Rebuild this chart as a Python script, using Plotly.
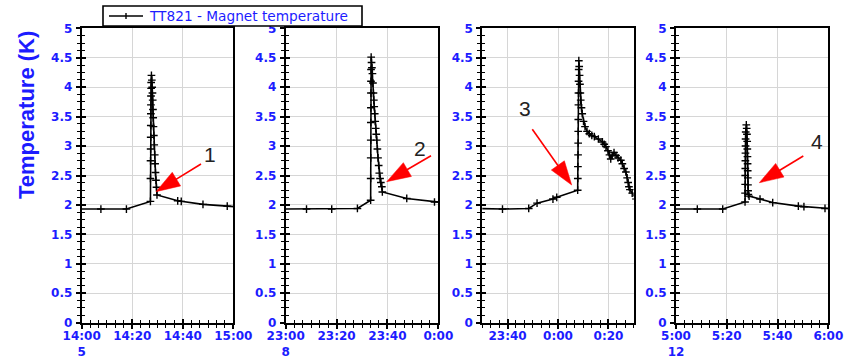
import plotly.graph_objects as go
import pandas as pd

# ---------------- data ----------------
series_name = "TT821 - Magnet temperature"
y_title = "Temperature (K)"

panel_starts = ["2019-02-05 14:00", "2019-02-08 23:00", "2019-02-10 23:30", "2019-02-12 05:00"]
panel_span_min = 60
tick_offsets = [[0, 20, 40, 60], [0, 20, 40, 60], [10, 30, 50], [0, 20, 40, 60]]
tick_labels = [["14:00", "14:20", "14:40", "15:00"],
               ["23:00", "23:20", "23:40", "0:00"],
               ["23:40", "0:00", "0:20"],
               ["5:00", "5:20", "5:40", "6:00"]]
day_labels = ["5", "8", "", "12"]

# minutes after panel start, temperature (K)
p1_min = [-3, 7.6, 17.7, 27.2, 27.23, 27.26, 27.29, 27.32, 27.35, 27.38, 27.41, 27.44, 27.47, 27.5, 27.6,
          27.75, 27.9, 28.0, 28.1, 28.2, 28.3, 28.4, 28.55, 28.7, 28.9, 29.05, 29.2, 29.4, 29.6, 29.8,
          38.0, 39.4, 48.0, 57.6, 64]
p1_temp = [1.93, 1.93, 1.93, 2.06, 2.45, 2.75, 2.95, 3.15, 3.35, 3.55, 3.7, 3.85, 3.98, 4.08, 4.2,
           4.12, 4.0, 3.9, 3.78, 3.62, 3.48, 3.33, 3.18, 3.02, 2.85, 2.7, 2.55, 2.42, 2.3, 2.17,
           2.07, 2.06, 2.01, 1.98, 1.96]

p2_min = [-3, 8.2, 18.1, 28.2, 33.4, 33.42, 33.44, 33.46, 33.48, 33.5, 33.52, 33.54, 33.56, 33.6,
          33.75, 33.9, 34.1, 34.3, 34.5, 34.65, 34.8, 35.0, 35.2, 35.4, 35.6, 35.8, 36.05, 36.3, 36.55,
          36.8, 37.1, 37.4, 37.8, 38.0, 47.6, 58.5, 64]
p2_temp = [1.93, 1.93, 1.93, 1.94, 2.08, 2.45, 2.8, 3.1, 3.4, 3.65, 3.9, 4.1, 4.3, 4.51,
           4.42, 4.33, 4.23, 4.07, 3.9, 3.78, 3.67, 3.55, 3.42, 3.3, 3.2, 3.1, 2.95, 2.8, 2.67,
           2.54, 2.45, 2.38, 2.31, 2.22, 2.11, 2.05, 2.03]

p3_min = [-3, 8.0, 18.4, 21.7, 28.0, 29.5, 37.8, 37.85, 37.9, 37.95, 38.0, 38.03, 38.06, 38.1, 38.13,
          38.16, 38.2, 38.25, 38.4, 38.55, 38.7, 38.85, 39.0, 39.3, 39.6, 40.1, 40.7, 41.5, 42.4, 43.4,
          44.4, 46.0, 47.6, 48.3, 49.0, 49.8, 50.4, 50.9, 51.5, 52.2, 53.0, 53.8, 54.9, 55.5, 56.2,
          56.9, 57.4, 57.8, 58.1, 58.5, 59.4, 61]
p3_temp = [1.94, 1.93, 1.94, 2.03, 2.10, 2.13, 2.25, 2.45, 2.65, 2.85, 3.05, 3.25, 3.45, 3.7, 3.9,
           4.1, 4.3, 4.45, 4.35, 4.2, 4.05, 3.9, 3.78, 3.65, 3.55, 3.42, 3.33, 3.25, 3.21, 3.18,
           3.16, 3.12, 3.07, 3.03, 2.99, 2.92, 2.85, 2.78, 2.84, 2.89, 2.84, 2.8, 2.76, 2.7, 2.62,
           2.56, 2.46, 2.38, 2.31, 2.26, 2.2, 2.1]

p4_min = [-3, 8.4, 18.4, 27.2, 27.22, 27.25, 27.28, 27.31, 27.34, 27.37, 27.4, 27.43, 27.47, 27.7,
          27.85, 27.95, 28.05, 28.1, 28.15, 28.2, 28.25, 28.3, 28.35, 28.4, 28.5, 28.8,
          33.1, 38.1, 48.2, 50.4, 58.7, 63]
p4_temp = [1.93, 1.93, 1.93, 2.05, 2.2, 2.35, 2.5, 2.62, 2.75, 2.88, 3.0, 3.12, 3.24, 3.36,
           3.3, 3.2, 3.08, 2.95, 2.82, 2.7, 2.58, 2.46, 2.34, 2.24, 2.18, 2.15,
           2.10, 2.04, 1.98, 1.97, 1.94, 1.93]

panel_minutes = [p1_min, p2_min, p3_min, p4_min]
panel_temps = [p1_temp, p2_temp, p3_temp, p4_temp]

arrow_labels = ["1", "2", "3", "4"]

# ---------------- layout / style ----------------
W, H = 850, 360
BLUE = "#1c1cff"
panel_px = [(81.7, 233.3), (285.7, 438.3), (482.3, 633.7), (676.0, 828.3)]
plot_top_px, plot_bot_px = 28.3, 322.7

# arrows: (tail x, tail y, tip x, tip y) and label centre, in pixels
arrow_px = [(201, 164, 156, 191.7), (431, 155.7, 386.7, 181.7),
            (532.3, 129.3, 571.7, 185), (803.3, 156, 759.3, 182.7)]
label_px = [(209.5, 154), (420, 148), (524.5, 108), (816.5, 141.5)]

# legend box (pixels)
leg_box = (103, 6, 362, 26)
leg_line = (109, 143)
leg_text_x = 147


def px2paper(x, y):
    return x / W, 1 - y / H


fmt = "%Y-%m-%d %H:%M:%S"
fig = go.Figure()

ydom = [1 - plot_bot_px / H, 1 - plot_top_px / H]
tick_font = dict(family="DejaVu Sans", size=12, color=BLUE, weight="bold")

for i in range(4):
    n, m = i + 1, i + 5
    start = pd.Timestamp(panel_starts[i])
    end = start + pd.Timedelta(minutes=panel_span_min)
    xs = [(start + pd.Timedelta(minutes=v)).strftime(fmt) for v in panel_minutes[i]]
    fig.add_trace(go.Scatter(
        x=xs, y=panel_temps[i], mode="lines+markers", name=series_name,
        showlegend=False, xaxis=f"x{n}", yaxis=f"y{n}",
        line=dict(color="black", width=1.6),
        marker=dict(symbol="cross-thin", size=5.5, color="black", line=dict(color="black", width=1.4)),
        hoverinfo="skip"))
    # overlay subplot for inward half of crossing ticks
    fig.add_trace(go.Scatter(x=[], y=[], xaxis=f"x{m}", yaxis=f"y{m}", showlegend=False,
                             hoverinfo="skip"))

    tv = [(start + pd.Timedelta(minutes=o)).strftime(fmt) for o in tick_offsets[i]]
    tt = list(tick_labels[i])
    if day_labels[i]:
        tt[0] = tt[0] + "<br>" + day_labels[i]
    xdom = [panel_px[i][0] / W, panel_px[i][1] / W]
    xr = [start.strftime(fmt), end.strftime(fmt)]

    fig.layout[f"xaxis{n}"] = dict(
        domain=xdom, range=xr, type="date", anchor=f"y{n}", automargin=False,
        tickmode="array", tickvals=tv, ticktext=tt,
        ticks="outside", ticklen=4, tickwidth=1.5, tickcolor="black",
        showline=True, linecolor="black", linewidth=2, mirror=True,
        showgrid=True, gridcolor="#d6d6d6", gridwidth=1, zeroline=False,
        tickfont=tick_font, ticklabelstandoff=-3,
        minor=dict(tick0=xr[0], dtick=200000, ticks="outside", ticklen=3,
                   tickwidth=1.3, tickcolor="black", showgrid=False))
    fig.layout[f"yaxis{n}"] = dict(
        domain=ydom, range=[0, 5], anchor=f"x{n}", dtick=0.5, tick0=0, automargin=False,
        ticks="outside", ticklen=4, tickwidth=1.5, tickcolor="black",
        showline=True, linecolor="black", linewidth=2, mirror=True,
        showgrid=True, gridcolor="#d6d6d6", gridwidth=1, zeroline=False,
        tickfont=tick_font, ticklabelstandoff=1,
        minor=dict(dtick=0.125, ticks="outside", ticklen=3, tickwidth=1.3,
                   tickcolor="black", showgrid=False))
    fig.layout[f"xaxis{m}"] = dict(
        domain=xdom, range=xr, type="date", overlaying=f"x{n}", anchor=f"y{m}", automargin=False,
        tickmode="array", tickvals=tv, showticklabels=False,
        ticks="inside", ticklen=4, tickwidth=1.5, tickcolor="black",
        showline=False, showgrid=False, zeroline=False,
        minor=dict(tick0=xr[0], dtick=200000, ticks="inside", ticklen=3,
                   tickwidth=1.3, tickcolor="black", showgrid=False))
    fig.layout[f"yaxis{m}"] = dict(
        domain=ydom, range=[0, 5], overlaying=f"y{n}", anchor=f"x{m}", dtick=0.5, automargin=False,
        showticklabels=False, ticks="inside", ticklen=4, tickwidth=1.5, tickcolor="black",
        showline=False, showgrid=False, zeroline=False,
        minor=dict(dtick=0.125, ticks="inside", ticklen=3, tickwidth=1.3,
                   tickcolor="black", showgrid=False))

shapes = []
annotations = []
HEAD_L, HEAD_W = 24, 16
for (tx, ty, hx, hy), (lx, ly), lab in zip(arrow_px, label_px, arrow_labels):
    dx, dy = hx - tx, hy - ty
    d = (dx * dx + dy * dy) ** 0.5
    ux, uy = dx / d, dy / d
    bx, by = hx - ux * HEAD_L, hy - uy * HEAD_L
    px_, py_ = -uy, ux
    c1 = (bx + px_ * HEAD_W / 2, by + py_ * HEAD_W / 2)
    c2 = (bx - px_ * HEAD_W / 2, by - py_ * HEAD_W / 2)
    a0 = px2paper(tx, ty)
    a1 = px2paper(bx + ux * 2, by + uy * 2)
    shapes.append(dict(type="line", xref="paper", yref="paper", x0=a0[0], y0=a0[1],
                       x1=a1[0], y1=a1[1], line=dict(color="#ff0000", width=1.6)))
    t = px2paper(hx, hy)
    q1 = px2paper(*c1)
    q2 = px2paper(*c2)
    shapes.append(dict(type="path", xref="paper", yref="paper",
                       path=f"M{t[0]},{t[1]} L{q1[0]},{q1[1]} L{q2[0]},{q2[1]} Z",
                       fillcolor="#ff0000", line=dict(color="#ff0000", width=0.5)))
    lp = px2paper(lx, ly)
    annotations.append(dict(xref="paper", yref="paper", x=lp[0], y=lp[1], text=lab,
                            showarrow=False, xanchor="center", yanchor="middle",
                            font=dict(family="Liberation Sans, Arial", size=21, color="#222222")))

# legend (drawn as a boxed key)
bx0, by0 = px2paper(leg_box[0], leg_box[1])
bx1, by1 = px2paper(leg_box[2], leg_box[3])
shapes.append(dict(type="rect", xref="paper", yref="paper", x0=bx0, y0=by1, x1=bx1, y1=by0,
                   fillcolor="white", line=dict(color="black", width=1.6)))
ymid = (leg_box[1] + leg_box[3]) / 2
l0 = px2paper(leg_line[0], ymid)
l1 = px2paper(leg_line[1], ymid)
shapes.append(dict(type="line", xref="paper", yref="paper", x0=l0[0], y0=l0[1], x1=l1[0], y1=l1[1],
                   line=dict(color="black", width=1.6)))
xm = (leg_line[0] + leg_line[1]) / 2
v0 = px2paper(xm, ymid - 3)
v1 = px2paper(xm, ymid + 3)
shapes.append(dict(type="line", xref="paper", yref="paper", x0=v0[0], y0=v0[1], x1=v1[0], y1=v1[1],
                   line=dict(color="black", width=1.4)))
lt = px2paper(leg_text_x, ymid)
annotations.append(dict(xref="paper", yref="paper", x=lt[0], y=lt[1], text=series_name,
                        showarrow=False, xanchor="left", yanchor="middle",
                        font=dict(family="DejaVu Sans", size=13.7, color=BLUE)))

tp = px2paper(27, 115)
annotations.append(dict(xref="paper", yref="paper", x=tp[0], y=tp[1], text=y_title,
                        textangle=-90, showarrow=False, xanchor="center", yanchor="middle",
                        font=dict(family="Liberation Sans, Arial", size=22, color=BLUE, weight="bold")))

fig.update_layout(
    width=W, height=H, margin=dict(l=0, r=0, t=0, b=0, autoexpand=False),
    paper_bgcolor="white", plot_bgcolor="white", showlegend=False,
    shapes=shapes, annotations=annotations, hovermode=False,
)

fig.write_html("out.html")
